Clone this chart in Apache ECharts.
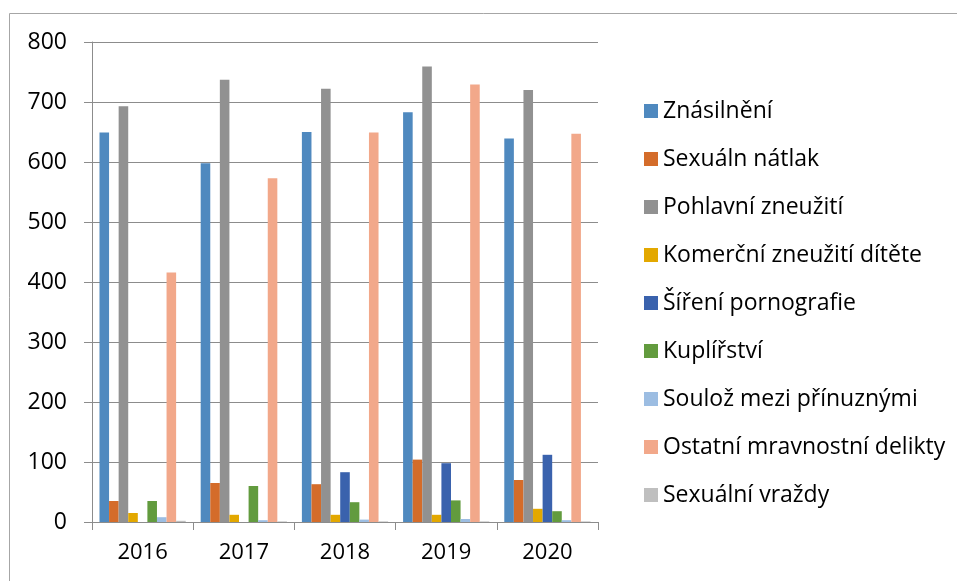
<!DOCTYPE html>
<html>
<head>
<meta charset="utf-8">
<script src="https://cdn.jsdelivr.net/npm/echarts@6/dist/echarts.min.js"></script>
<style>
    html, body { margin: 0; padding: 0; background: #fff; }
    #chart { width: 957px; height: 581px; }
</style>
</head>
<body>
<div id="chart"></div>
<script>
var years = ['2016', '2017', '2018', '2019', '2020'];

var names = ['Znásilnění', 'Sexuáln nátlak', 'Pohlavní zneužití', 'Komerční zneužití dítěte',
    'Šíření pornografie', 'Kuplířství', 'Soulož mezi přínuznými', 'Ostatní mravnostní delikty',
    'Sexuální vraždy'];

var znasilneni = [649, 598, 650, 683, 639];
var natlak = [35, 65, 63, 104, 70];
var pohlavni = [693, 737, 722, 759, 720];
var komercni = [15, 12, 12, 12, 22];
var pornografie = [0, 0, 83, 98, 112];
var kuplirstvi = [35, 60, 33, 36, 18];
var soulez = [8, 3, 4, 5, 3];
var ostatni = [416, 573, 649, 729, 647];
var vrazdy = [2, 1, 1, 1, 1];

var yTicks = [0, 100, 200, 300, 400, 500, 600, 700, 800];

var values = [znasilneni, natlak, pohlavni, komercni, pornografie, kuplirstvi, soulez, ostatni, vrazdy];
var colors = ['#4f89bf', '#d46c2a', '#919191', '#e3a800', '#3a62ad', '#629b3e', '#9cbde2', '#f2a88a', '#bfbfbf'];

var gridColor = '#8c8c8c';
var font = 'Open Sans';

var series = [];
for (var i = 0; i < names.length; i++) {
    series.push({
        name: names[i],
        type: 'bar',
        data: values[i],
        barGap: '0%',
        barCategoryGap: '14.8%',
        itemStyle: { color: colors[i] },
        animation: false
    });
}

var myChart = echarts.init(document.getElementById('chart'));

var option = {
    animation: false,
    color: colors,
    grid: { left: 92, right: 359, top: 42, bottom: 59, containLabel: false },
    legend: {
        orient: 'vertical',
        left: 639,
        top: 94,
        itemWidth: 14,
        itemHeight: 14,
        itemGap: 24,
        icon: 'rect',
        data: names,
        textStyle: {
            fontFamily: font,
            fontSize: 23,
            color: '#000',
            lineHeight: 24,
            padding: [0, 0, 0, 0]
        }
    },
    xAxis: {
        type: 'category',
        data: years,
        boundaryGap: true,
        axisLine: { lineStyle: { color: gridColor, width: 1 } },
        axisTick: { show: true, length: 8, lineStyle: { color: gridColor } },
        axisLabel: { fontFamily: font, fontSize: 22, color: '#000', margin: 20 }
    },
    yAxis: {
        type: 'value',
        min: yTicks[0],
        max: yTicks[yTicks.length - 1],
        interval: 100,
        axisLine: { show: true, lineStyle: { color: gridColor, width: 1 } },
        axisTick: { show: true, length: 8, lineStyle: { color: gridColor } },
        splitLine: { lineStyle: { color: gridColor, width: 1 } },
        axisLabel: { fontFamily: font, fontSize: 23, color: '#000', margin: 25 }
    },
    graphic: [{
        type: 'line',
        shape: { x1: 9.5, y1: 13.5, x2: 957, y2: 13.5 },
        style: { stroke: '#a6a6a6', lineWidth: 1 }
    }, {
        type: 'line',
        shape: { x1: 9.5, y1: 13.5, x2: 9.5, y2: 581 },
        style: { stroke: '#a6a6a6', lineWidth: 1 }
    }],
    series: series
};

myChart.setOption(option);
</script>
</body>
</html>
